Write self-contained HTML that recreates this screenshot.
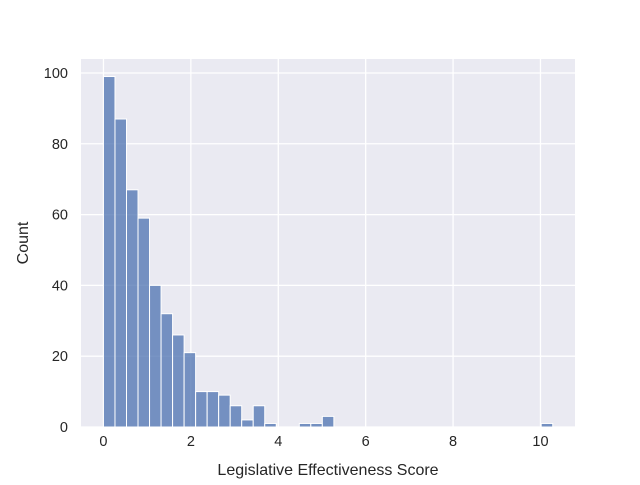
<!DOCTYPE html>
<html><head><meta charset="utf-8"><style>
body{margin:0;background:#fff;font-family:"Liberation Sans","DejaVu Sans",sans-serif}
</style></head><body>
<svg id="chart" width="640" height="480" xmlns="http://www.w3.org/2000/svg"></svg>
<script>
const counts=[99,87,67,59,40,32,26,21,10,10,9,6,2,6,1,0,0,1,1,3,0,0,0,0,0,0,0,0,0,0,0,0,0,0,0,0,0,0,1];
const binStart=0, binWidth=0.2636;
const xTicks=[0,2,4,6,8,10];
const yTicks=[0,20,40,60,80,100];
const L=81,R=575,T=59,B=427;
const xmin=-0.514,xmax=10.79,ymax=103.95;
const X=v=>L+(v-xmin)/(xmax-xmin)*(R-L);
const Y=v=>B-v/ymax*(B-T);
const svg=document.getElementById('chart');
const ns='http://www.w3.org/2000/svg';
function mk(t,a){const e=document.createElementNS(ns,t);for(const k in a)e.setAttribute(k,a[k]);svg.appendChild(e);return e;}
const bg=mk('rect',{x:L,y:T,width:R-L,height:B-T,fill:'#eaeaf2'});


xTicks.forEach(t=>{const g=mk('line',{x1:X(t),x2:X(t),y1:T,y2:B,stroke:'#fff','stroke-width':1.3});


const l=mk('text',{x:X(t),y:B+19,'text-anchor':'middle','font-size':14.5,fill:'#262626'});l.textContent=t;

});
yTicks.forEach(t=>{const g=mk('line',{x1:L,x2:R,y1:Y(t),y2:Y(t),stroke:'#fff','stroke-width':1.3});


const l=mk('text',{x:L-13,y:Y(t)+5,'text-anchor':'end','font-size':14.5,fill:'#262626'});l.textContent=t;

});
counts.forEach((c,i)=>{if(c<=0)return;const x0=X(binStart+i*binWidth),x1=X(binStart+(i+1)*binWidth);
const r=mk('rect',{x:x0,y:Y(c),width:x1-x0,height:B-Y(c),fill:'rgba(76,114,176,0.75)',stroke:'#fff','stroke-width':1});

});
const xt=mk('text',{x:(L+R)/2,y:475,'text-anchor':'middle','font-size':16,fill:'#262626'});xt.textContent='Legislative Effectiveness Score';


const yt=mk('text',{x:28,y:(T+B)/2,'text-anchor':'middle','font-size':16,fill:'#262626',transform:`rotate(-90 28 ${(T+B)/2})`});yt.textContent='Count';


</script>
</body></html>
